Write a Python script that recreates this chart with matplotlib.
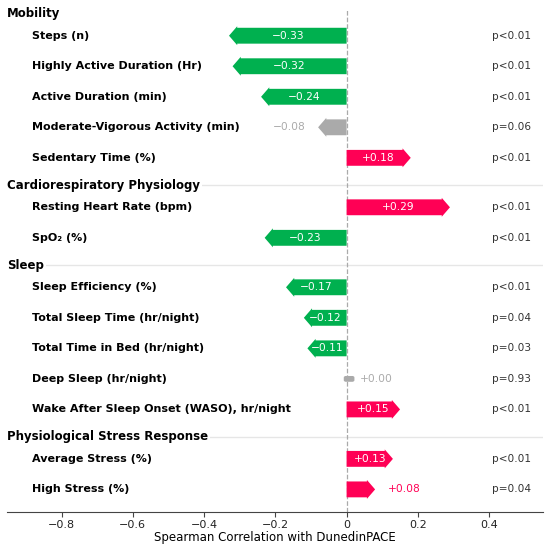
import matplotlib
matplotlib.use("Agg")
import matplotlib.pyplot as plt
from matplotlib.patches import FancyArrow, FancyBboxPatch
import matplotlib.transforms as mtransforms

# grupos y variables
grupos = ["Mobility", "Cardiorespiratory Physiology", "Sleep", "Physiological Stress Response"]
variables = [
    ["Steps (n)", "Highly Active Duration (Hr)", "Active Duration (min)",
     "Moderate-Vigorous Activity (min)", "Sedentary Time (%)"],
    ["Resting Heart Rate (bpm)", "SpO\u2082 (%)"],
    ["Sleep Efficiency (%)", "Total Sleep Time (hr/night)", "Total Time in Bed (hr/night)",
     "Deep Sleep (hr/night)", "Wake After Sleep Onset (WASO), hr/night"],
    ["Average Stress (%)", "High Stress (%)"],
]
rho = [
    [-0.33, -0.32, -0.24, -0.08, 0.18],
    [0.29, -0.23],
    [-0.17, -0.12, -0.11, 0.00, 0.15],
    [0.13, 0.08],
]
p_texto = [
    ["p<0.01", "p<0.01", "p<0.01", "p=0.06", "p<0.01"],
    ["p<0.01", "p<0.01"],
    ["p<0.01", "p=0.04", "p=0.03", "p=0.93", "p<0.01"],
    ["p<0.01", "p=0.04"],
]
p_valor = [
    [0.01, 0.01, 0.01, 0.06, 0.01],
    [0.01, 0.01],
    [0.01, 0.04, 0.03, 0.93, 0.01],
    [0.01, 0.04],
]

VERDE = "#00b04f"
ROSA = "#ff0055"
GRIS = "#aaaaaa"

fig = plt.figure(figsize=(5.5, 5.53), dpi=100)
ax = fig.add_axes([0.0127, 0.0736, 0.9745, 0.9104])

# posiciones verticales
filas_header = []
filas = []
y = 0.0
for g, vars_g in enumerate(variables):
    if g > 0:
        y += 0.9
    filas_header.append(y)
    y += 0.72
    pos_g = []
    for i in range(len(vars_g)):
        if i > 0:
            y += 1.0
        pos_g.append(y)
    filas.append(pos_g)
y_fin = y + 0.75

ax.set_xlim(-0.953, 0.551)
ax.set_ylim(y_fin, -0.16)

trans = mtransforms.blended_transform_factory(ax.transAxes, ax.transData)

ax.axvline(0, color="#aaaaaa", ls="--", lw=0.9, zorder=1)

for g, nombre in enumerate(grupos):
    yh = filas_header[g]
    if g > 0:
        ax.axhline(yh, color="#e6e6e6", lw=1, zorder=0)
    ax.text(0.0, yh, nombre, transform=trans, ha="left", va="center",
            fontsize=8.5, fontweight="bold", color="black",
            bbox=dict(facecolor="white", edgecolor="none", pad=1.5), zorder=2)

    for i, etiqueta in enumerate(variables[g]):
        yy = filas[g][i]
        v = rho[g][i]
        sig = p_valor[g][i] < 0.05
        if not sig:
            color = GRIS
        elif v < 0:
            color = VERDE
        else:
            color = ROSA

        ax.text(-0.883, yy, etiqueta, ha="left", va="center", fontsize=8,
                fontweight="bold", color="black")
        ax.text(0.517, yy, p_texto[g][i], ha="right", va="center",
                fontsize=7.6, color="#333333")

        if abs(v) < 0.005:
            ax.add_patch(FancyBboxPatch((-0.002, yy - 0.04), 0.018, 0.08,
                                        boxstyle="round,pad=0.004,rounding_size=0.004",
                                        mutation_aspect=8, facecolor=color,
                                        edgecolor=color, lw=1, zorder=3))
        else:
            ax.add_patch(FancyArrow(0, yy, v, 0, width=0.52, head_width=0.62,
                                    head_length=0.023, length_includes_head=True,
                                    facecolor=color, edgecolor="none", zorder=3))

        txt = f"{v:+.2f}".replace("-", "\u2212")
        if abs(v) >= 0.10:
            ax.text(v / 2, yy, txt, ha="center", va="center", fontsize=7.7,
                    color="white", zorder=4)
        elif v < 0:
            ax.text(v - 0.035, yy, txt, ha="right", va="center", fontsize=7.7,
                    color=color, zorder=4)
        else:
            ax.text(v + 0.037, yy, txt, ha="left", va="center", fontsize=7.7,
                    color=color, zorder=4)

ticks = [-0.8, -0.6, -0.4, -0.2, 0, 0.2, 0.4]
ax.set_xticks(ticks)
ax.set_xticklabels(["0" if t == 0 else f"{t:.1f}".replace("-", "\u2212") for t in ticks],
                   fontsize=8)
ax.set_yticks([])
for s in ["left", "top", "right"]:
    ax.spines[s].set_visible(False)
ax.spines["bottom"].set_color("#444444")
ax.tick_params(axis="x", colors="#444444", labelcolor="#222222", pad=2)
ax.set_xlabel("Spearman Correlation with DunedinPACE", fontsize=8.5, labelpad=1)

plt.savefig("out.png", dpi=100)
